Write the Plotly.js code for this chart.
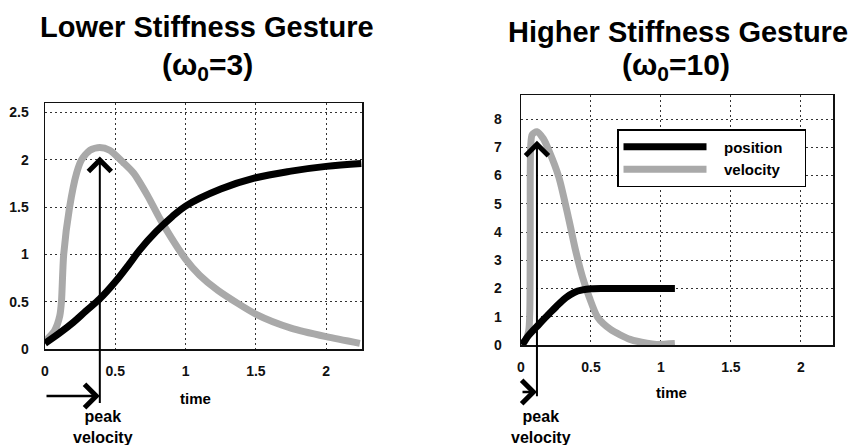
<!DOCTYPE html>
<html>
<head>
<meta charset="utf-8">
<script src="https://cdn.plot.ly/plotly-3.0.1.min.js"></script>
<style>
  html, body { margin: 0; padding: 0; background: #fff; }
  #chart { width: 851px; height: 445px; }
</style>
</head>
<body>
<div id="chart"></div>
<script>
// Lower stiffness gesture (omega0 = 3)
const lowVelTime = [0, 0.01, 0.07, 0.105, 0.117, 0.133, 0.175, 0.225, 0.26, 0.32, 0.39, 0.46, 0.557, 0.63, 0.73, 0.82, 1.0, 1.1, 1.23, 1.51, 1.75, 2.0, 2.24];
const lowVelocity = [0.06, 0.09, 0.2, 0.35, 0.5, 1.0, 1.5, 1.86, 2.0, 2.1, 2.13, 2.1, 1.97, 1.86, 1.62, 1.37, 0.95, 0.78, 0.62, 0.36, 0.22, 0.13, 0.06];
const lowPosTime = [0, 0.105, 0.2, 0.29, 0.39, 0.5, 0.6, 0.67, 0.79, 0.905, 1.0, 1.25, 1.5, 1.75, 2.0, 2.25];
const lowPosition = [0.06, 0.17, 0.28, 0.40, 0.53, 0.71, 0.9, 1.04, 1.24, 1.40, 1.51, 1.69, 1.81, 1.88, 1.93, 1.96];

// Higher stiffness gesture (omega0 = 10)
const highVelTime = [0.0, 0.03, 0.055, 0.063, 0.066, 0.069, 0.08, 0.114, 0.16, 0.198, 0.27, 0.343, 0.39, 0.44, 0.488, 0.548, 0.64, 0.78, 0.9, 0.97, 1.1];
const highVelocity = [0.05, 0.15, 0.5, 1.2, 4.0, 7.0, 7.45, 7.55, 7.3, 6.9, 5.95, 4.42, 3.35, 2.4, 1.69, 0.98, 0.55, 0.2, 0.06, 0.02, 0.05];
const highPosTime = [0.01, 0.04, 0.08, 0.121, 0.16, 0.2, 0.25, 0.32, 0.38, 0.44, 0.5, 0.6, 0.8, 1.1];
const highPosition = [0.0, 0.25, 0.48, 0.69, 0.9, 1.1, 1.35, 1.67, 1.86, 1.95, 1.99, 2.0, 2.0, 2.0];

// Axis ticks
const timeTicks = [0, 0.5, 1, 1.5, 2];
const timeTickText = ['0', '0.5', '1', '1.5', '2'];
const lowYTicks = [0, 0.5, 1, 1.5, 2, 2.5];
const lowYTickText = ['0', '0.5', '1', '1.5', '2', '2.5'];
const highYTicks = [0, 1, 2, 3, 4, 5, 6, 7, 8];
const highYTickText = ['0', '1', '2', '3', '4', '5', '6', '7', '8'];

// Titles and labels
const seriesNames = ['position', 'velocity'];
const panelTitles = ['Lower Stiffness Gesture', 'Higher Stiffness Gesture'];
const panelSubtitles = ['(ω<sub>0</sub>=3)', '(ω<sub>0</sub>=10)'];
const xLabel = 'time';
const peakLabel = 'peak<br>velocity';

const FONT = '"Liberation Sans", Arial, sans-serif';
const POS_COLOR = '#000000';
const VEL_COLOR = '#a9a9a9';

function peakOf(t, v) {
  const i = v.indexOf(Math.max(...v));
  return { t: t[i], v: v[i] };
}
const lowPeak = peakOf(lowVelTime, lowVelocity);
const highPeak = peakOf(highVelTime, highVelocity);

// legend entries get some breathing room around the label
const pad = (s) => '\u00a0\u00a0\u00a0' + s + '\u00a0\u00a0\u00a0\u00a0';

const lineOpts = (color, smooth) => ({ color: color, width: 7, shape: 'spline', smoothing: smooth });

const traces = [
  { x: lowVelTime, y: lowVelocity, xaxis: 'x', yaxis: 'y', mode: 'lines', name: seriesNames[1],
    line: lineOpts(VEL_COLOR, 0.7), showlegend: false, hoverinfo: 'skip' },
  { x: lowPosTime, y: lowPosition, xaxis: 'x', yaxis: 'y', mode: 'lines', name: seriesNames[0],
    line: lineOpts(POS_COLOR, 1.0), showlegend: false, hoverinfo: 'skip' },
  { x: highVelTime, y: highVelocity, xaxis: 'x2', yaxis: 'y2', mode: 'lines', name: pad(seriesNames[1]),
    line: lineOpts(VEL_COLOR, 0.7), showlegend: true, legendrank: 2, hoverinfo: 'skip' },
  { x: highPosTime, y: highPosition, xaxis: 'x2', yaxis: 'y2', mode: 'lines', name: pad(seriesNames[0]),
    line: lineOpts(POS_COLOR, 1.0), showlegend: true, legendrank: 1, hoverinfo: 'skip' }
];

const axisBase = {
  showline: true, mirror: true, linecolor: '#111', linewidth: 1.5,
  showgrid: true, gridcolor: '#333', gridwidth: 1, griddash: '2px,3px',
  zeroline: false, ticks: '', fixedrange: true,
  tickfont: { family: FONT, size: 14, color: '#111', weight: 'bold' }
};

const W = 851, H = 445;

const layout = {
  width: W, height: H,
  margin: { l: 0, r: 0, t: 0, b: 0 },
  paper_bgcolor: '#fff', plot_bgcolor: '#fff',
  font: { family: FONT, color: '#000' },
  showlegend: true,
  xaxis: Object.assign({}, axisBase, {
    domain: [45 / W, 362 / W], range: [0, 2.255], anchor: 'y',
    tickvals: timeTicks, ticktext: timeTickText, ticklabelstandoff: 9
  }),
  yaxis: Object.assign({}, axisBase, {
    domain: [(H - 349) / H, (H - 103) / H], range: [0, 2.6], anchor: 'x',
    tickvals: lowYTicks, ticktext: lowYTickText, ticklabelstandoff: 12
  }),
  xaxis2: Object.assign({}, axisBase, {
    domain: [521 / W, 833 / W], range: [0, 2.23], anchor: 'y2',
    tickvals: timeTicks, ticktext: timeTickText, ticklabelstandoff: 9
  }),
  yaxis2: Object.assign({}, axisBase, {
    domain: [(H - 345) / H, (H - 95) / H], range: [0, 8.85], anchor: 'x2',
    tickvals: highYTicks, ticktext: highYTickText, ticklabelstandoff: 15
  }),
  legend: {
    x: 617 / W, y: (H - 129) / H, xanchor: 'left', yanchor: 'top',
    bgcolor: '#fff', bordercolor: '#000', borderwidth: 1.5,
    font: { family: FONT, size: 15, color: '#000', weight: 'bold' },
    itemwidth: 83, traceorder: 'normal'
  },
  annotations: [
    // panel titles
    { xref: 'paper', yref: 'paper', x: 207 / W, y: (H - 27) / H, text: panelTitles[0], showarrow: false,
      xanchor: 'center', yanchor: 'middle', font: { family: FONT, size: 29, weight: 'bold', color: '#000' } },
    { xref: 'paper', yref: 'paper', x: 207 / W, y: (H - 66) / H, text: panelSubtitles[0], showarrow: false,
      xanchor: 'center', yanchor: 'middle', font: { family: FONT, size: 30, weight: 'bold', color: '#000' } },
    { xref: 'paper', yref: 'paper', x: 678 / W, y: (H - 32) / H, text: panelTitles[1], showarrow: false,
      xanchor: 'center', yanchor: 'middle', font: { family: FONT, size: 29, weight: 'bold', color: '#000' } },
    { xref: 'paper', yref: 'paper', x: 676 / W, y: (H - 66) / H, text: panelSubtitles[1], showarrow: false,
      xanchor: 'center', yanchor: 'middle', font: { family: FONT, size: 30, weight: 'bold', color: '#000' } },

    // x-axis labels
    { xref: 'x domain', yref: 'paper', x: 0.476, y: (H - 398) / H, text: xLabel, showarrow: false,
      xanchor: 'center', yanchor: 'middle', font: { family: FONT, size: 15, weight: 'bold', color: '#000' } },
    { xref: 'x2 domain', yref: 'paper', x: 0.481, y: (H - 392) / H, text: xLabel, showarrow: false,
      xanchor: 'center', yanchor: 'middle', font: { family: FONT, size: 15, weight: 'bold', color: '#000' } },

    // peak velocity markers, low stiffness
    { xref: 'x', yref: 'y', x: lowPeak.t, y: lowPeak.v, ax: 0, ay: 257, text: '', showarrow: true,
      arrowhead: 4, arrowsize: 2.2, arrowwidth: 2, arrowcolor: '#000', standoff: 9 },
    { xref: 'x', yref: 'paper', x: lowPeak.t, y: (H - 396) / H, axref: 'x', ax: 0, ayref: 'pixel', ay: 0,
      text: '', showarrow: true, arrowhead: 4, arrowsize: 1.8, arrowwidth: 2.5, arrowcolor: '#000', standoff: 0 },
    { xref: 'x', yref: 'paper', x: lowPeak.t, xshift: 3, y: (H - 406) / H, text: peakLabel, showarrow: false,
      xanchor: 'center', yanchor: 'top', font: { family: FONT, size: 16, weight: 'bold', color: '#000' } },

    // peak velocity markers, high stiffness
    { xref: 'x2', yref: 'y2', x: highPeak.t, y: highPeak.v, ax: 0, ay: 266, text: '', showarrow: true,
      arrowhead: 4, arrowsize: 2.2, arrowwidth: 2, arrowcolor: '#000', standoff: 9 },
    { xref: 'x2', yref: 'paper', x: highPeak.t, y: (H - 392) / H, axref: 'x2', ax: 0, ayref: 'pixel', ay: 0,
      text: '', showarrow: true, arrowhead: 4, arrowsize: 1.8, arrowwidth: 2.5, arrowcolor: '#000', standoff: 0 },
    { xref: 'x2', yref: 'paper', x: highPeak.t, xshift: 4, y: (H - 406) / H, text: peakLabel, showarrow: false,
      xanchor: 'center', yanchor: 'top', font: { family: FONT, size: 16, weight: 'bold', color: '#000' } }
  ]
};

Plotly.newPlot('chart', traces, layout, { staticPlot: true, displayModeBar: false });
</script>
</body>
</html>
